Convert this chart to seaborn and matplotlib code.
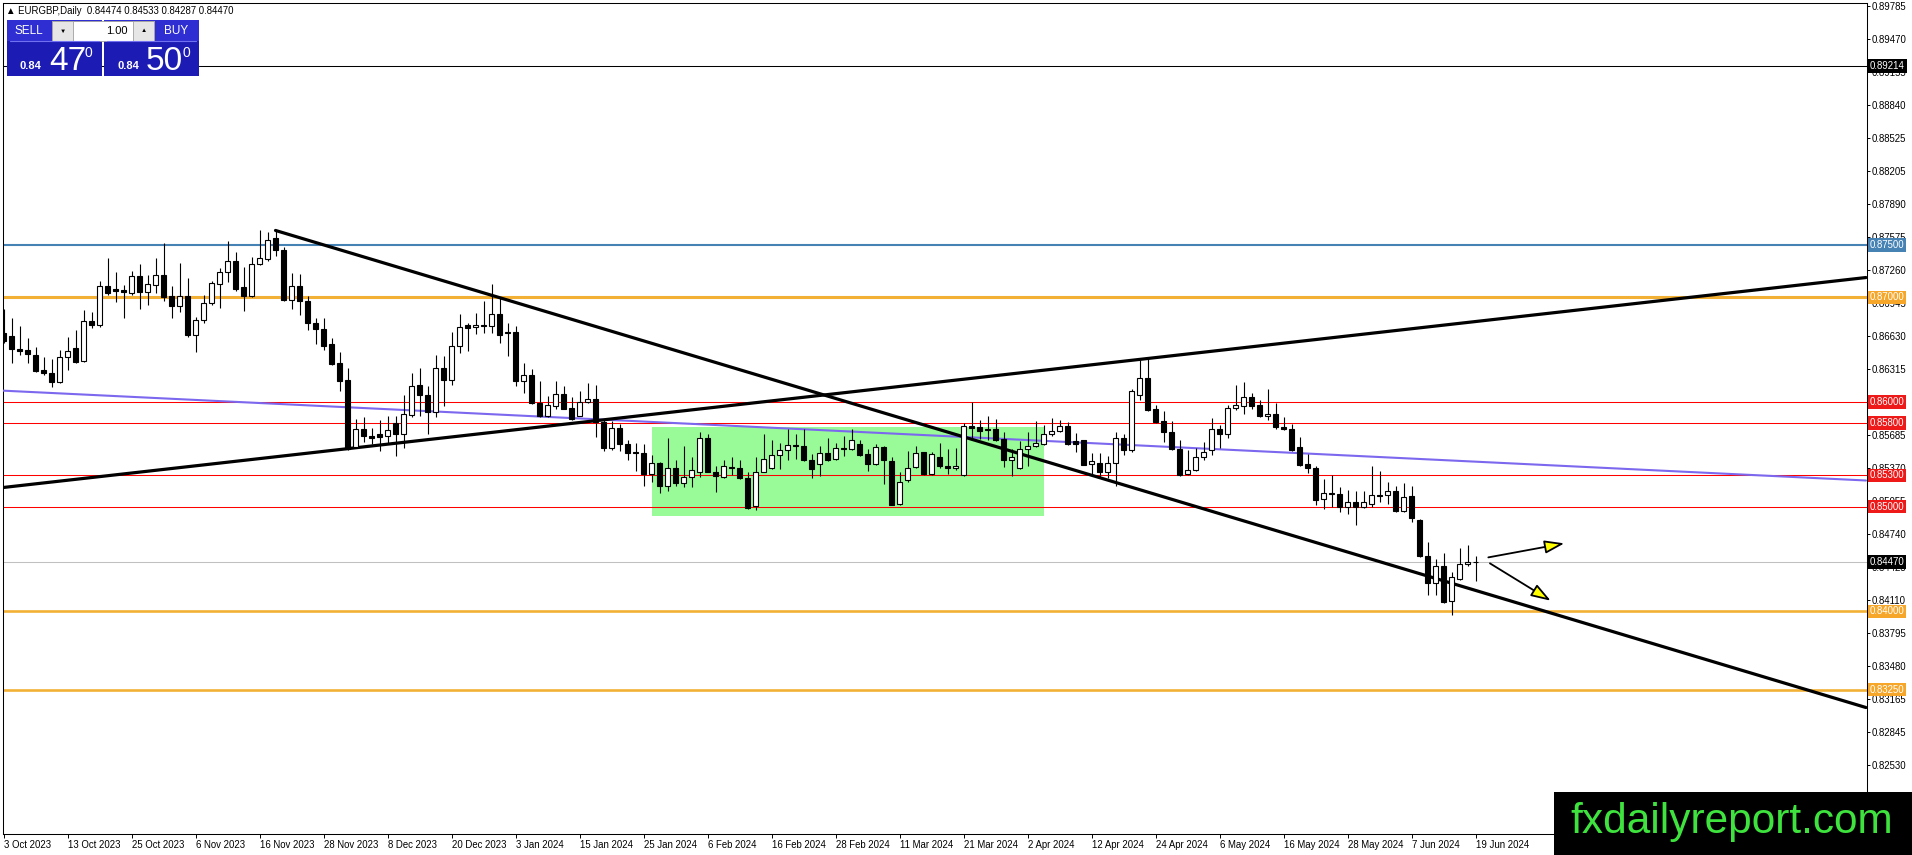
import numpy as np
import pandas as pd
import matplotlib
matplotlib.use("Agg")
import matplotlib.pyplot as plt
import seaborn as sns
from matplotlib.patches import Rectangle, FancyArrowPatch
from matplotlib.transforms import blended_transform_factory, offset_copy

# EURGBP daily, one bar per trading day from 3 Oct 2023 to 19 Jun 2024
opens = [
    .8666, .8663, .8651, .8650, .8645, .8631, .8628, .8619, .8643, .8652,
    .8639, .8677, .8674, .8711, .8708, .8707, .8704, .8720, .8705, .8712,
    .8721, .8701, .8692, .8701, .8664, .8678, .8695, .8713, .8724, .8735,
    .8710, .8701, .8732, .8737, .8757, .8745, .8698, .8711, .8697, .8676,
    .8670, .8655, .8637, .8621, .8557, .8574, .8568, .8569, .8568, .8580,
    .8569, .8588, .8616, .8607, .8590, .8633, .8621, .8654, .8674, .8672,
    .8674, .8673, .8684, .8667, .8667, .8620, .8626, .8599, .8587, .8596,
    .8608, .8594, .8587, .8600, .8603, .8581, .8556, .8575, .8560, .8552,
    .8551, .8531, .8542, .8520, .8537, .8523, .8528, .8533, .8566, .8533,
    .8528, .8538, .8537, .8527, .8501, .8533, .8537, .8549, .8554, .8559,
    .8558, .8545, .8541, .8551, .8546, .8556, .8555, .8560, .8550, .8541,
    .8557, .8544, .8503, .8525, .8538, .8552, .8531, .8547, .8539, .8537,
    .8530, .8577, .8576, .8574, .8574, .8565, .8545, .8537, .8555, .8558,
    .8560, .8569, .8572, .8577, .8563, .8564, .8541, .8542, .8533, .8542,
    .8566, .8554, .8607, .8623, .8593, .8582, .8571, .8555, .8531, .8535,
    .8547, .8554, .8574, .8569, .8594, .8596, .8605, .8597, .8587, .8589,
    .8576, .8574, .8557, .8541, .8537, .8507, .8513, .8512, .8500, .8504,
    .8500, .8503, .8511, .8511, .8515, .8496, .8510, .8487, .8453, .8427,
    .8443, .8410, .8431, .8445, .84474,
]
highs = [
    .8689, .8680, .8673, .8661, .8653, .8643, .8641, .8650, .8662, .8669,
    .8688, .8686, .8716, .8738, .8724, .8712, .8725, .8732, .8721, .8738,
    .8752, .8711, .8733, .8719, .8681, .8702, .8716, .8728, .8754, .8743,
    .8729, .8739, .8764, .8763, .8764, .8748, .8723, .8722, .8701, .8680,
    .8680, .8661, .8648, .8633, .8584, .8586, .8575, .8583, .8587, .8587,
    .8607, .8628, .8633, .8615, .8645, .8644, .8667, .8684, .8676, .8685,
    .8697, .8713, .8700, .8676, .8673, .8637, .8632, .8620, .8606, .8620,
    .8615, .8605, .8611, .8618, .8616, .8583, .8582, .8579, .8564, .8561,
    .8560, .8549, .8543, .8566, .8545, .8558, .8547, .8571, .8569, .8539,
    .8545, .8547, .8545, .8533, .8547, .8569, .8564, .8561, .8574, .8569,
    .8574, .8550, .8558, .8566, .8561, .8568, .8574, .8564, .8555, .8560,
    .8558, .8547, .8533, .8553, .8558, .8552, .8552, .8561, .8555, .8556,
    .8580, .8600, .8583, .8587, .8584, .8571, .8555, .8563, .8571, .8582,
    .8578, .8585, .8583, .8581, .8570, .8564, .8551, .8551, .8548, .8571,
    .8569, .8612, .8640, .8643, .8597, .8591, .8582, .8564, .8554, .8556,
    .8562, .8585, .8578, .8597, .8616, .8619, .8609, .8602, .8612, .8599,
    .8586, .8579, .8567, .8550, .8539, .8526, .8530, .8519, .8516, .8515,
    .8515, .8539, .8534, .8524, .8520, .8523, .8520, .8488, .8466, .8450,
    .8456, .8438, .8460, .8463, .84533,
]
lows = [
    .8656, .8637, .8645, .8637, .8629, .8626, .8614, .8618, .8631, .8637,
    .8638, .8671, .8672, .8702, .8696, .8680, .8702, .8689, .8693, .8704,
    .8697, .8680, .8686, .8662, .8648, .8676, .8693, .8690, .8715, .8706,
    .8687, .8700, .8731, .8735, .8740, .8697, .8689, .8683, .8669, .8655,
    .8650, .8635, .8611, .8554, .8556, .8562, .8560, .8553, .8561, .8548,
    .8556, .8586, .8587, .8569, .8586, .8596, .8616, .8647, .8649, .8665,
    .8666, .8666, .8656, .8644, .8615, .8609, .8598, .8586, .8586, .8593,
    .8593, .8583, .8587, .8599, .8567, .8553, .8554, .8553, .8545, .8534,
    .8520, .8524, .8513, .8515, .8520, .8519, .8519, .8528, .8533, .8514,
    .8527, .8530, .8526, .8498, .8497, .8533, .8536, .8536, .8545, .8546,
    .8544, .8527, .8529, .8544, .8545, .8548, .8554, .8548, .8534, .8540,
    .8522, .8502, .8502, .8524, .8537, .8530, .8530, .8537, .8531, .8535,
    .8529, .8565, .8565, .8564, .8563, .8538, .8529, .8536, .8539, .8557,
    .8559, .8568, .8571, .8559, .8552, .8540, .8529, .8528, .8527, .8520,
    .8549, .8552, .8602, .8591, .8580, .8562, .8554, .8529, .8530, .8534,
    .8545, .8549, .8556, .8566, .8592, .8589, .8593, .8586, .8583, .8574,
    .8573, .8553, .8539, .8532, .8502, .8498, .8500, .8495, .8493, .8482,
    .8499, .8500, .8504, .8503, .8495, .8495, .8485, .8452, .8416, .8416,
    .8408, .8396, .8430, .8443, .84287,
]
closes = [
    .8658, .8651, .8649, .8646, .8630, .8628, .8619, .8643, .8649, .8638,
    .8677, .8674, .8711, .8704, .8706, .8705, .8720, .8705, .8713, .8721,
    .8700, .8692, .8701, .8664, .8678, .8695, .8714, .8724, .8735, .8708,
    .8701, .8732, .8738, .8755, .8745, .8698, .8711, .8697, .8676, .8670,
    .8654, .8636, .8620, .8555, .8574, .8568, .8566, .8567, .8573, .8569,
    .8589, .8615, .8607, .8590, .8633, .8621, .8654, .8672, .8671, .8674,
    .8673, .8684, .8664, .8666, .8620, .8626, .8599, .8587, .8597, .8608,
    .8593, .8584, .8600, .8603, .8581, .8556, .8575, .8560, .8551, .8551,
    .8531, .8542, .8520, .8537, .8523, .8528, .8535, .8566, .8533, .8529,
    .8539, .8537, .8527, .8499, .8533, .8546, .8549, .8554, .8559, .8558,
    .8545, .8536, .8551, .8545, .8556, .8555, .8564, .8549, .8541, .8557,
    .8545, .8502, .8524, .8537, .8551, .8531, .8550, .8539, .8537, .8539,
    .8577, .8575, .8572, .8573, .8564, .8545, .8547, .8555, .8558, .8561,
    .8569, .8572, .8577, .8560, .8560, .8540, .8544, .8533, .8542, .8566,
    .8554, .8611, .8623, .8592, .8581, .8571, .8555, .8530, .8535, .8547,
    .8552, .8574, .8569, .8594, .8597, .8605, .8596, .8587, .8589, .8576,
    .8574, .8554, .8540, .8537, .8506, .8513, .8512, .8500, .8504, .8500,
    .8504, .8511, .8510, .8515, .8496, .8509, .8489, .8453, .8427, .8443,
    .8409, .8433, .8445, .8447, .84470,
]

date_labels = ['3 Oct 2023', '13 Oct 2023', '25 Oct 2023', '6 Nov 2023', '16 Nov 2023',
               '28 Nov 2023', '8 Dec 2023', '20 Dec 2023', '3 Jan 2024', '15 Jan 2024',
               '25 Jan 2024', '6 Feb 2024', '16 Feb 2024', '28 Feb 2024', '11 Mar 2024',
               '21 Mar 2024', '2 Apr 2024', '12 Apr 2024', '24 Apr 2024', '6 May 2024',
               '16 May 2024', '28 May 2024', '7 Jun 2024', '19 Jun 2024']
label_every = 8  # one date label every 8 bars

price_ticks = [0.89785, 0.89470, 0.89155, 0.88840, 0.88525, 0.88205, 0.87890, 0.87575,
               0.87260, 0.86945, 0.86630, 0.86315, 0.86000, 0.85685, 0.85370, 0.85055,
               0.84740, 0.84425, 0.84110, 0.83795, 0.83480, 0.83165, 0.82845, 0.82530]

# horizontal levels: price, line colour, line width (pt), label box colour
levels = [0.89214, 0.87500, 0.87000, 0.86000, 0.85800, 0.85300, 0.85000, 0.84470, 0.84000, 0.83250]
level_colors = ['black', '#4682b4', '#f2b035', '#ff0000', '#ff0000', '#ff0000', '#ff0000',
                '#c0c0c0', '#f2b035', '#f2b035']
level_widths = [0.75, 1.5, 2.2, 0.75, 0.75, 0.75, 0.75, 0.75, 1.9, 1.9]
box_colors = ['black', '#4682b4', '#f6a72a', '#ee1a1a', '#ee1a1a', '#ee1a1a', '#ee1a1a',
              'black', '#f6a72a', '#f6a72a']

# trend lines, anchors as (bar index, price)
down_bars, down_prices = [34, 232.8], [0.8764, 0.8308]
up_bars, up_prices = [-0.4, 232.8], [0.8518, 0.8719]
slate_bars, slate_prices = [-0.4, 232.8], [0.8611, 0.8525]

# consolidation box
box_bars = [81, 130]
box_prices = [0.8491, 0.8576]

# the two arrows: start bar, start price, end bar, end price
arrow_up = [185.6, 0.84515, 195.1, 0.84649]
arrow_down = [185.8, 0.84458, 193.4, 0.84101]

sns.set_theme(style="white")
plt.rcParams['font.family'] = ['Liberation Sans', 'DejaVu Sans']

W, H = 1912, 855
fig = plt.figure(figsize=(W / 100, H / 100), dpi=100)
ax = fig.add_axes([2.7 / W, 21 / H, (1866.5 - 2.7) / W, (834 - 2.7) / H])
ax.set_facecolor('white')

df = pd.DataFrame({'open': opens, 'high': highs, 'low': lows, 'close': closes})
df['bar'] = np.arange(len(df))
bull = df['close'] >= df['open']

# green range box behind everything
ax.add_patch(Rectangle((box_bars[0], box_prices[0]), box_bars[1] - box_bars[0],
                       box_prices[1] - box_prices[0], fc='#98fb98', ec='none', zorder=1))

for lvl, c, w in zip(levels, level_colors, level_widths):
    ax.axhline(lvl, color=c, lw=w, zorder=2)

sns.lineplot(x=slate_bars, y=slate_prices, ax=ax, color='#7b68ee', lw=1.5, zorder=3,
             estimator=None, sort=False, legend=False)
sns.lineplot(x=up_bars, y=up_prices, ax=ax, color='black', lw=2.3, zorder=3,
             estimator=None, sort=False, legend=False)
sns.lineplot(x=down_bars, y=down_prices, ax=ax, color='black', lw=2.3, zorder=3,
             estimator=None, sort=False, legend=False)

# candles
ax.vlines(df['bar'], df['low'], df['high'], color='black', lw=0.8, zorder=5)
body_lo = df[['open', 'close']].min(axis=1)
body_h = (df['close'] - df['open']).abs()
ax.bar(df['bar'], body_h, bottom=body_lo, width=0.58,
       color=np.where(bull, 'white', 'black'), edgecolor='black', linewidth=0.8, zorder=6)

for a in (arrow_up, arrow_down):
    ax.add_patch(FancyArrowPatch((a[0], a[1]), (a[2], a[3]),
                                 arrowstyle='-|>,head_length=12,head_width=4',
                                 mutation_scale=1, fc='#ffff00', ec='black', lw=1.3,
                                 shrinkA=0, shrinkB=0, zorder=8))

ax.set_xlim(-0.1, 232.87)
ax.set_ylim(0.81871, 0.89817)

for s in ax.spines.values():
    s.set_visible(True)
    s.set_color('black')
    s.set_linewidth(0.75)

ax.yaxis.tick_right()
ax.set_yticks(price_ticks)
ax.set_yticklabels([f"{v:.5f}" for v in price_ticks])
ax.set_xticks(np.arange(len(date_labels)) * label_every)
ax.set_xticklabels(date_labels)
ax.tick_params(axis='y', which='both', direction='out', length=2.5, width=0.7,
               pad=1.5, labelsize=6.9, colors='black', right=True, left=False)
ax.tick_params(axis='x', which='both', direction='out', length=3, width=0.7,
               pad=1.2, labelsize=6.9, colors='black', bottom=True)
for lbl in ax.get_xticklabels():
    lbl.set_ha('left')
ax.grid(False)

# price labels in coloured boxes on the right scale
trans = offset_copy(blended_transform_factory(ax.transAxes, ax.transData),
                    fig=fig, x=3.5, y=0, units='dots')
for lvl, bc in zip(levels, box_colors):
    ax.text(1.0, lvl, f"{lvl:.5f}", transform=trans, ha='left', va='center',
            fontsize=6.9, color='white', zorder=20, clip_on=False,
            bbox=dict(boxstyle='square,pad=0.18', fc=bc, ec='none'))

# overlay in pixel units for the trade panel, header and watermark
ov = fig.add_axes([0, 0, 1, 1], zorder=10)
ov.set_xlim(0, W)
ov.set_ylim(H, 0)
ov.axis('off')
ov.patch.set_alpha(0)

ov.text(6, 11, "\u25b2 EURGBP,Daily  0.84474 0.84533 0.84287 0.84470", fontsize=6.9,
        va='center', ha='left', color='black')

for x0 in (7, 104):
    ov.add_patch(Rectangle((x0, 20), 95, 56, fc='#1c1cb4', ec='none'))
    ov.add_patch(Rectangle((x0, 20), 95, 21, fc='#2e2ed2', ec='none'))
    ov.plot([x0 + 3, x0 + 92], [41, 41], color='#7070f0', lw=0.8)
ov.add_patch(Rectangle((52, 21), 102, 20, fc='white', ec='#a0a0a0', lw=0.6))
ov.add_patch(Rectangle((52, 21), 21, 20, fc='#e6e6e6', ec='#a0a0a0', lw=0.6))
ov.add_patch(Rectangle((133, 21), 21, 20, fc='#e6e6e6', ec='#a0a0a0', lw=0.6))
ov.text(62.5, 31, "\u25bc", fontsize=4.5, ha='center', va='center', color='black')
ov.text(143.5, 31, "\u25b2", fontsize=4.5, ha='center', va='center', color='black')
ov.text(128, 31, "1.00", fontsize=8, ha='right', va='center', color='black')
ov.text(29, 31, "SELL", fontsize=8.5, ha='center', va='center', color='white')
ov.text(176, 31, "BUY", fontsize=8.5, ha='center', va='center', color='white')
for x_small, x_big, x_sup, big in ((20, 49, 85, "47"), (118, 146, 183, "50")):
    ov.text(x_small, 69, "0.84", fontsize=8, ha='left', va='baseline', color='white',
            fontweight='bold')
    ov.text(x_big, 70, big, fontsize=24, ha='left', va='baseline', color='white')
    ov.text(x_sup, 57, "0", fontsize=10, ha='left', va='baseline', color='white')

ov.add_patch(Rectangle((1554, 792), W - 1554, H - 792, fc='black', ec='none'))
ov.text(1732, 833, "fxdailyreport.com", fontsize=30.5, ha='center', va='baseline',
        color='#3ee33e')

fig.savefig('out.png', dpi=100)
